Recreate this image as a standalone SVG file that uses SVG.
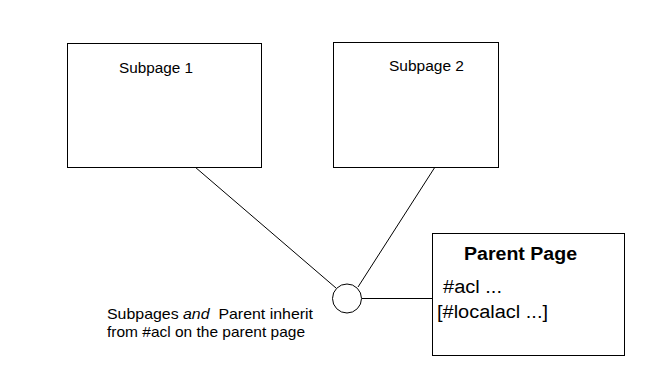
<svg xmlns="http://www.w3.org/2000/svg" width="647" height="389" viewBox="0 0 647 389">
<style>
.box{fill:#fff;stroke:#000;stroke-width:1}
.ln{stroke:#000;stroke-width:1;fill:none}
text{font-family:"Liberation Sans",Arial,sans-serif;fill:#000}
.s{font-size:15.5px}
.n{font-size:15px}
.m{font-size:18px}
</style>
<rect width="647" height="389" fill="#fff"/>
<g id="connectors">
<line class="ln" x1="195" y1="167" x2="336" y2="288"/>
<line class="ln" x1="435" y1="167" x2="358" y2="287"/>
<line class="ln" x1="362" y1="298.5" x2="432" y2="298.5"/>
</g>
<g id="subpage1">
<rect class="box" x="67.5" y="43.5" width="194" height="124"/>
<text class="s" x="119" y="73" textLength="74" lengthAdjust="spacingAndGlyphs">Subpage 1</text>
</g>
<g id="subpage2">
<rect class="box" x="333.5" y="42.5" width="165" height="125"/>
<text class="s" x="389" y="71" textLength="75" lengthAdjust="spacingAndGlyphs">Subpage 2</text>
</g>
<g id="junction">
<circle class="box" cx="347" cy="298.5" r="14.5"/>
</g>
<g id="parent">
<rect class="box" x="432.5" y="233.5" width="192" height="122"/>
<text class="m" x="464" y="260" font-weight="bold" textLength="113" lengthAdjust="spacingAndGlyphs">Parent Page</text>
<text class="m" x="443" y="293" textLength="59" lengthAdjust="spacingAndGlyphs">#acl ...</text>
<text class="m" x="437" y="318" textLength="111" lengthAdjust="spacingAndGlyphs">[#localacl ...]</text>
</g>
<g id="note">
<text class="n" x="107" y="319" xml:space="preserve" textLength="206" lengthAdjust="spacingAndGlyphs">Subpages <tspan font-style="italic">and</tspan>  Parent inherit</text>
<text class="n" x="107" y="337" textLength="198" lengthAdjust="spacingAndGlyphs">from #acl on the parent page</text>
</g>
</svg>
